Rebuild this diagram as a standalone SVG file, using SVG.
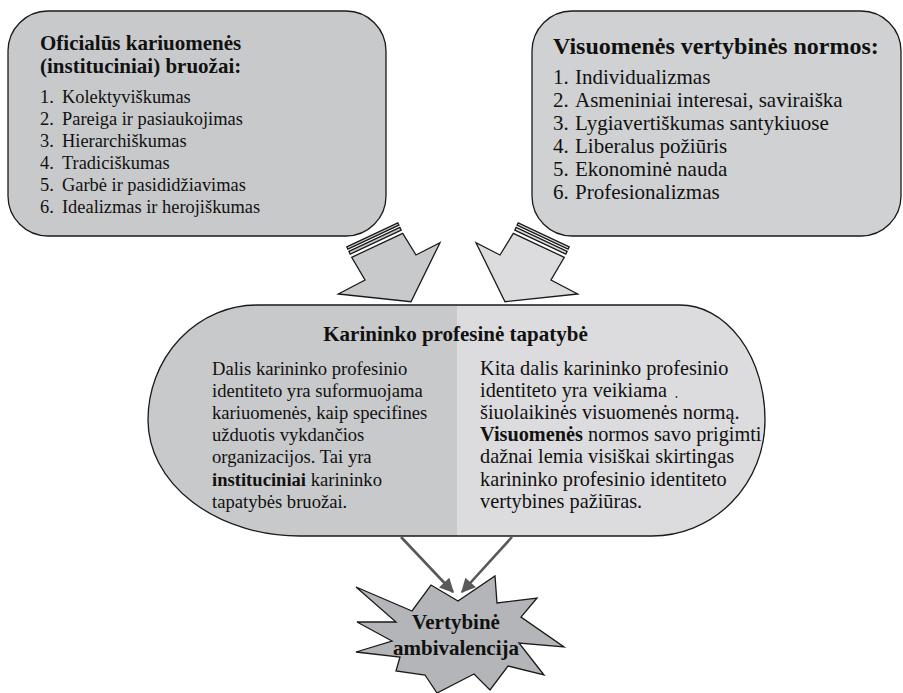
<svg xmlns="http://www.w3.org/2000/svg" width="903" height="693" viewBox="0 0 903 693">
<style>
  .t { font-family: "Liberation Serif", "Times New Roman", serif; fill: #111; }
  .b { font-weight: bold; }
  .ln { stroke: #1a1a1a; stroke-width: 1.3; stroke-linejoin: miter; }
  .dk { fill: #c8c9cb; }
  .lt { fill: #dcdcde; }
  .conn { stroke: #595959; stroke-width: 2.6; fill: none; }
</style>
<defs>
  <marker id="ah" viewBox="0 0 10 10" refX="9" refY="5" markerWidth="6" markerHeight="5.5" orient="auto" markerUnits="strokeWidth">
    <path d="M0,0 L10,5 L0,10 Z" fill="#595959"/>
  </marker>
  <clipPath id="leftHalf"><rect x="0" y="0" width="457" height="693"/></clipPath>
</defs>
<rect x="0" y="0" width="903" height="693" fill="#ffffff"/>

<g id="box-official">
  <rect x="8" y="11" width="378" height="225" rx="40" ry="40" class="ln dk"/>
  <text class="t b" font-size="21" x="40" y="50">Oficialūs kariuomenės</text>
  <text class="t b" font-size="21" x="40" y="73">(instituciniai) bruožai:</text>
  <g class="t" font-size="18.4">
    <text x="40" y="103">1.<tspan x="62">Kolektyviškumas</tspan></text>
    <text x="40" y="125">2.<tspan x="62">Pareiga ir pasiaukojimas</tspan></text>
    <text x="40" y="147">3.<tspan x="62">Hierarchiškumas</tspan></text>
    <text x="40" y="169">4.<tspan x="62">Tradiciškumas</tspan></text>
    <text x="40" y="191">5.<tspan x="62">Garbė ir pasididžiavimas</tspan></text>
    <text x="40" y="213">6.<tspan x="62">Idealizmas ir herojiškumas</tspan></text>
  </g>
</g>

<g id="box-society">
  <rect x="532" y="11" width="369" height="225" rx="40" ry="40" class="ln" fill="#d0d1d3"/>
  <text class="t b" font-size="24" x="553" y="54">Visuomenės vertybinės normos:</text>
  <g class="t" font-size="21">
    <text x="553" y="84">1.<tspan x="575">Individualizmas</tspan></text>
    <text x="553" y="107">2.<tspan x="575">Asmeniniai interesai, saviraiška</tspan></text>
    <text x="553" y="130">3.<tspan x="575">Lygiavertiškumas santykiuose</tspan></text>
    <text x="553" y="153">4.<tspan x="575">Liberalus požiūris</tspan></text>
    <text x="553" y="176">5.<tspan x="575">Ekonominė nauda</tspan></text>
    <text x="553" y="199">6.<tspan x="575">Profesionalizmas</tspan></text>
  </g>
</g>

<g id="arrow-left">
  <polygon class="ln dk" points="346.8,246.9 397.8,222.9 398.9,225.2 347.9,249.2"/>
  <polygon class="ln dk" points="348.9,251.4 399.9,227.4 401.2,230.1 350.2,254.1"/>
  <polygon class="ln dk" points="351.7,257.3 402.7,233.3 416,255 440,242.7 411,301.7 338.3,294 365,280"/>
</g>

<g id="arrow-right">
  <polygon class="ln lt" points="569.2,246.9 518.2,222.9 517.1,225.2 568.1,249.2"/>
  <polygon class="ln lt" points="567.1,251.4 516.1,227.4 514.8,230.1 565.8,254.1"/>
  <polygon class="ln lt" points="564.3,257.3 513.3,233.3 500,255 476,242.7 505,301.7 577.7,294 551,280"/>
</g>

<g id="identity">
  <path class="lt" d="M257,305 L680,305 A85,115 0 0 1 765,420 A113,116 0 0 1 652,536 L300,536 A152,116 0 0 1 148,420 A109,115 0 0 1 257,305 Z"/>
  <path class="dk" clip-path="url(#leftHalf)" d="M257,305 L680,305 A85,115 0 0 1 765,420 A113,116 0 0 1 652,536 L300,536 A152,116 0 0 1 148,420 A109,115 0 0 1 257,305 Z"/>
  <path class="ln" fill="none" d="M257,305 L680,305 A85,115 0 0 1 765,420 A113,116 0 0 1 652,536 L300,536 A152,116 0 0 1 148,420 A109,115 0 0 1 257,305 Z"/>
  <text class="t b" font-size="21" x="455.5" y="341" text-anchor="middle">Karininko profesinė tapatybė</text>
  <g class="t" font-size="18.6">
    <text x="212" y="375">Dalis karininko profesinio</text>
    <text x="212" y="397">identiteto yra suformuojama</text>
    <text x="212" y="419">kariuomenės, kaip specifines</text>
    <text x="212" y="441">užduotis vykdančios</text>
    <text x="212" y="463">organizacijos. Tai yra</text>
    <text x="212" y="486"><tspan class="b">instituciniai</tspan> karininko</text>
    <text x="212" y="508">tapatybės bruožai.</text>
  </g>
  <g class="t" font-size="20.3">
    <text x="480" y="375">Kita dalis karininko profesinio</text>
    <text x="480" y="397">identiteto yra veikiama</text>
    <text x="480" y="419">šiuolaikinės visuomenės normą.</text>
    <text x="480" y="441"><tspan class="b">Visuomenės</tspan> normos savo prigimti</text>
    <text x="480" y="463">dažnai lemia visiškai skirtingas</text>
    <text x="480" y="486">karininko profesinio identiteto</text>
    <text x="480" y="508">vertybines pažiūras.</text>
  </g>
  <circle cx="676.5" cy="397" r="0.9" fill="#333"/>
</g>

<g id="connectors">
  <line class="conn" x1="401" y1="537" x2="453" y2="592" marker-end="url(#ah)"/>
  <line class="conn" x1="512" y1="537" x2="462" y2="592" marker-end="url(#ah)"/>
</g>

<g id="ambivalence">
  <polygon class="ln" fill="#b4b5b8" points="356,587 412,611 431,585 458,601 495,576 497,603 537,598 521,617 564,647 519,643 544,675 508,666 490,690 474,674 437,693 425,675 396,671 400,657 356,652 392,641 357,622 396,622"/>
  <text class="t b" font-size="21" x="456" y="629" text-anchor="middle">Vertybinė</text>
  <text class="t b" font-size="21" x="456" y="655" text-anchor="middle">ambivalencija</text>
</g>
</svg>
